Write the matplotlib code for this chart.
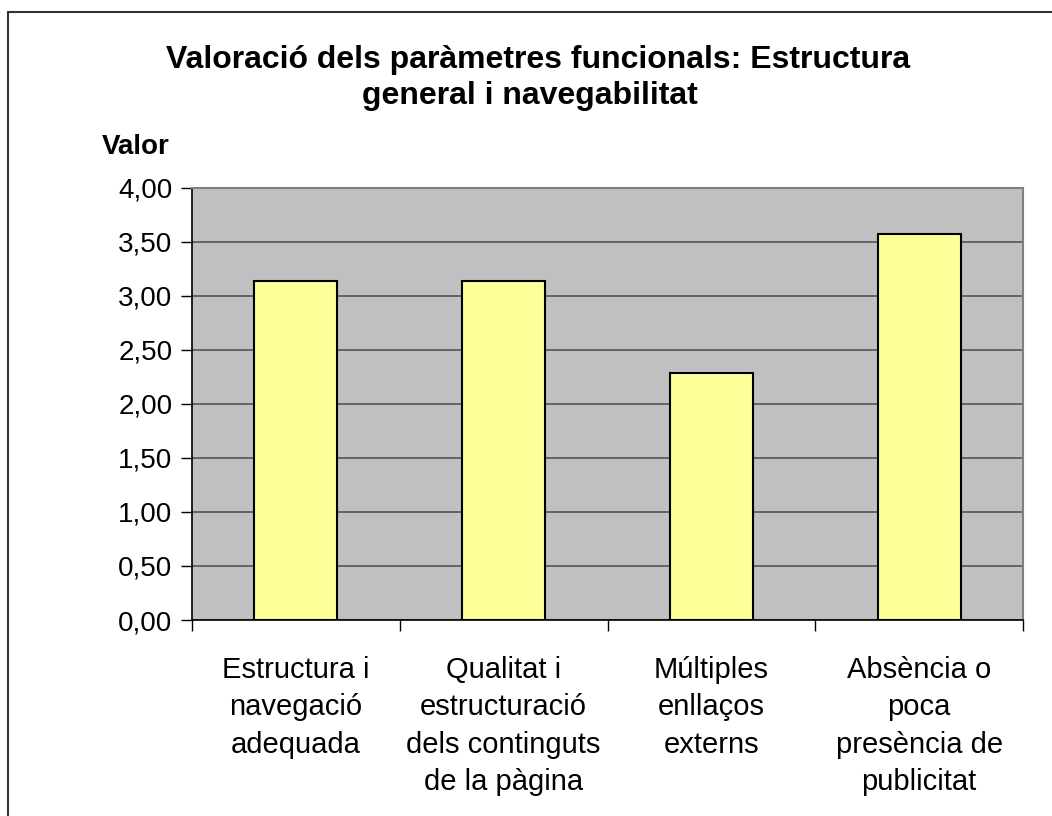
import numpy as np
import matplotlib.pyplot as plt
from matplotlib.patches import Rectangle

plt.rcParams['font.family'] = ['Liberation Sans', 'DejaVu Sans']

# data
categories = ['Estructura i\nnavegació\nadequada',
              'Qualitat i\nestructuració\ndels continguts\nde la pàgina',
              'Múltiples\nenllaços\nexterns',
              'Absència o\npoca\npresència de\npublicitat']
values = [3.14, 3.14, 2.29, 3.57]
yticks = [0, 0.5, 1, 1.5, 2, 2.5, 3, 3.5, 4]
ytick_labels = ['0,00', '0,50', '1,00', '1,50', '2,00', '2,50', '3,00', '3,50', '4,00']

fig = plt.figure(figsize=(10.52, 8.16), dpi=100)
ax = fig.add_axes([192/1052, 196/816, 831/1052, 432.3/816])

x = np.arange(len(values))
ax.set_facecolor('#C0C0C0')
ax.bar(x, values, width=0.4, color='#FFFF99', edgecolor='black', linewidth=1.5, zorder=3)

ax.set_xlim(-0.5, len(values) - 0.5)
ax.set_ylim(0, 4)
ax.set_yticks(yticks)
ax.set_yticklabels(ytick_labels, fontsize=20)
ax.yaxis.grid(True, color='#555555', linewidth=1.2, zorder=1)

# category boundaries as ticks, labels at centers
ax.set_xticks(np.arange(-0.5, len(values)))
ax.set_xticklabels([])
ax.set_xticks(x, minor=True)
ax.set_xticklabels(categories, minor=True, fontsize=21, linespacing=1.42, va='top')
ax.tick_params(axis='x', which='minor', length=0, pad=26)
ax.tick_params(axis='x', which='major', length=8, direction='out', width=1)
ax.tick_params(axis='y', length=8, direction='out', width=1, pad=6)

for s in ['left', 'bottom']:
    ax.spines[s].set_color('black')
    ax.spines[s].set_linewidth(1.2)
for s in ['right', 'top']:
    ax.spines[s].set_color('#808080')
    ax.spines[s].set_linewidth(1.5)

fig.text(538/1052, 1 - 68/816, 'Valoració dels paràmetres funcionals: Estructura',
         ha='center', va='baseline', fontsize=23, fontweight='bold')
fig.text(530/1052, 1 - 104/816, 'general i navegabilitat',
         ha='center', va='baseline', fontsize=23, fontweight='bold')
fig.text(136/1052, 1 - 154/816, 'Valor', ha='center', va='baseline',
         fontsize=20, fontweight='bold')

# outer chart border (right and bottom edges run off the image)
fig.patches.append(Rectangle((8/1052, -20/816), 1070/1052, 824/816,
                             transform=fig.transFigure, fill=False,
                             edgecolor='#333333', linewidth=1.5))

plt.savefig('out.png', dpi=100)
